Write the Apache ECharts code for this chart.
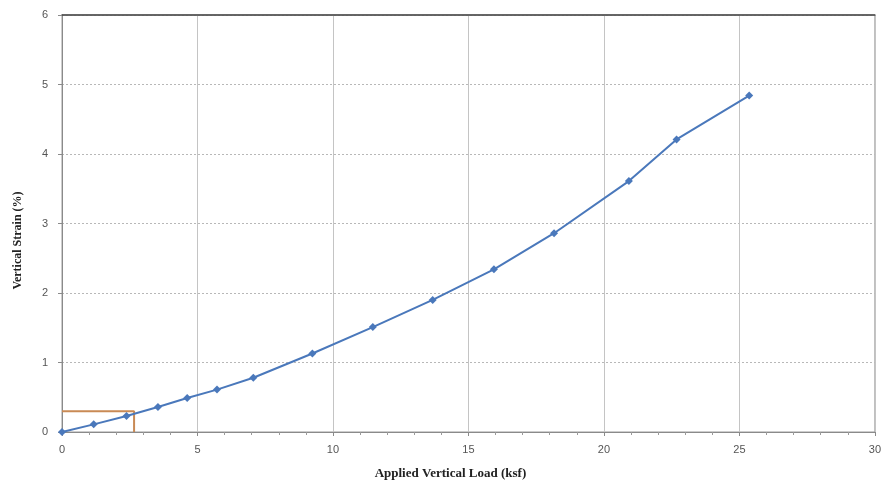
<!DOCTYPE html>
<html>
<head>
<meta charset="utf-8">
<script src="https://cdn.jsdelivr.net/npm/echarts@6/dist/echarts.min.js"></script>
<style>html,body{margin:0;padding:0;background:#fff}#c{width:884px;height:485px}</style>
</head>
<body>
<div id="c"></div>
<script>
const loadKsf = [0, 1.17, 2.38, 3.54, 4.62, 5.72, 7.06, 9.24, 11.47, 13.68, 15.94, 18.16, 20.92, 22.68, 25.36];
const strainPct = [0, 0.11, 0.23, 0.36, 0.49, 0.61, 0.78, 1.13, 1.51, 1.90, 2.34, 2.86, 3.61, 4.21, 4.84];
const refX = [0, 2.66, 2.66];
const refY = [0.3, 0.3, 0];
const xTitle = 'Applied Vertical Load (ksf)';
const yTitle = 'Vertical Strain (%)';

const chart = echarts.init(document.getElementById('c'));
chart.setOption({
  animation: false,
  backgroundColor: '#fff',
  grid: {left: 62, right: 5, top: 15, bottom: 53, show: true, borderColor: '#9a9a9a', borderWidth: 1},
  xAxis: [{
    type: 'value', min: 0, max: 30, interval: 5,
    name: xTitle, nameLocation: 'middle', nameGap: 35,
    nameTextStyle: {fontFamily: 'Liberation Serif', fontWeight: 'bold', fontSize: 13, color: '#222', padding: [0, 36, 0, 0]},
    axisLine: {show: true, lineStyle: {color: '#8a8a8a', width: 1}},
    axisTick: {show: true, length: 4, lineStyle: {color: '#8a8a8a'}},
    minorTick: {show: true, splitNumber: 5, length: 3, lineStyle: {color: '#9a9a9a'}},
    axisLabel: {margin: 12, fontFamily: 'Liberation Sans', fontSize: 11, color: '#555'},
    splitLine: {show: true, lineStyle: {color: '#c4c4c4', width: 1}}
  }, {
    type: 'value', min: 0, max: 30, position: 'top',
    axisLine: {show: true, lineStyle: {color: '#444', width: 1.5}},
    axisTick: {show: false}, axisLabel: {show: false}, splitLine: {show: false}
  }],
  yAxis: {
    type: 'value', min: 0, max: 6, interval: 1,
    name: yTitle, nameLocation: 'middle', nameGap: 38,
    nameTextStyle: {fontFamily: 'Liberation Serif', fontWeight: 'bold', fontSize: 12, color: '#222', padding: [0, 34, 0, 0]},
    axisLine: {show: true, lineStyle: {color: '#8a8a8a', width: 1}},
    axisTick: {show: true, length: 4, lineStyle: {color: '#8a8a8a'}},
    axisLabel: {margin: 14, fontFamily: 'Liberation Sans', fontSize: 11, color: '#555'},
    splitLine: {show: true, lineStyle: {color: '#b8b8b8', width: 1, type: [2, 2]}}
  },
  series: [{
    type: 'line',
    data: refX.map((x, i) => [x, refY[i]]),
    symbol: 'none',
    lineStyle: {color: '#c98a55', width: 2},
    z: 2
  }, {
    type: 'line',
    data: loadKsf.map((x, i) => [x, strainPct[i]]),
    symbol: 'diamond', symbolSize: 8,
    itemStyle: {color: '#4a78bb'},
    lineStyle: {color: '#4a78bb', width: 2},
    z: 3
  }]
});
</script>
</body>
</html>
